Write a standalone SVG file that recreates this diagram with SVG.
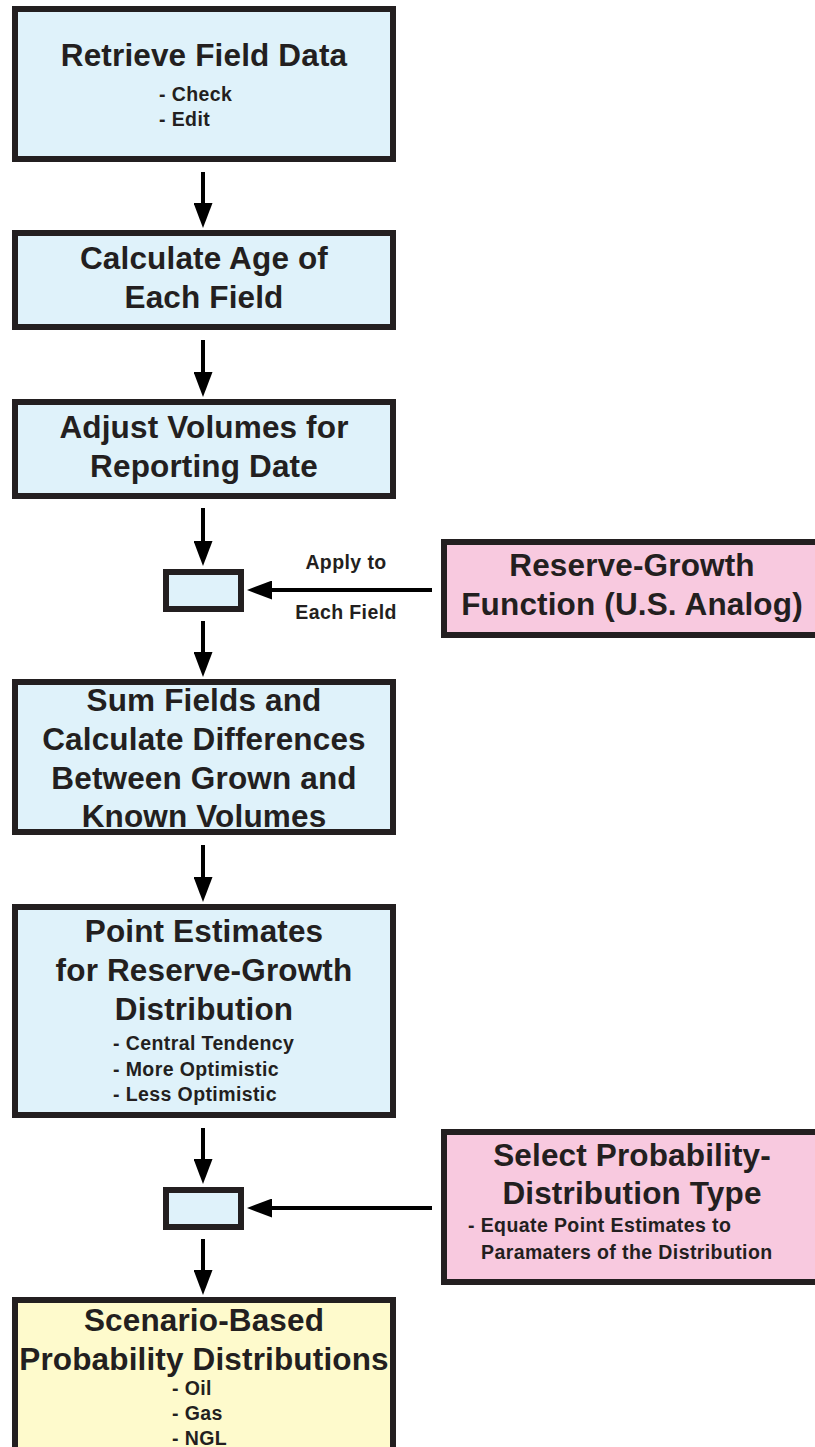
<svg xmlns="http://www.w3.org/2000/svg" width="815" height="1447" viewBox="0 0 815 1447">
<style>
.box{stroke:#231f20;stroke-width:6}
.blue{fill:#dff2fa}
.pink{fill:#f8c9df}
.yellow{fill:#fefacc}
text{font-family:"Liberation Sans",Arial,sans-serif;font-weight:bold;fill:#231f20}
.t{font-size:31.5px;letter-spacing:0.15px;text-anchor:middle}
.s{font-size:19.5px;letter-spacing:0.4px}
.sc{font-size:19.5px;letter-spacing:0.4px;text-anchor:middle}
.c{stroke:#000;stroke-width:4;fill:none;marker-end:url(#ah)}
</style>
<defs>
<marker id="ah" viewBox="0 0 25 19" refX="10" refY="9.5" markerWidth="25" markerHeight="19" markerUnits="userSpaceOnUse" orient="auto">
<path d="M0,0 L25,9.5 L0,19 Z" fill="#000"/>
</marker>
</defs>
<g id="n1">
<rect class="box blue" x="15" y="9" width="378" height="150"/>
<text class="t" x="204" y="66">Retrieve Field Data</text>
<text class="s" x="159" y="101">- Check</text>
<text class="s" x="159" y="126">- Edit</text>
</g>
<g id="n2">
<rect class="box blue" x="15" y="233" width="378" height="94"/>
<text class="t" x="204" y="269">Calculate Age of</text>
<text class="t" x="204" y="308">Each Field</text>
</g>
<g id="n3">
<rect class="box blue" x="15" y="402" width="378" height="94"/>
<text class="t" x="204" y="438">Adjust Volumes for</text>
<text class="t" x="204" y="477">Reporting Date</text>
</g>
<g id="j1">
<rect class="box blue" x="166" y="572" width="75" height="37"/>
</g>
<g id="n4">
<rect class="box pink" x="444" y="542" width="380" height="93"/>
<text class="t" x="632" y="576">Reserve-Growth</text>
<text class="t" x="632" y="615">Function (U.S. Analog)</text>
</g>
<g id="n5">
<rect class="box blue" x="15" y="682" width="378" height="150"/>
<text class="t" x="204" y="711">Sum Fields and</text>
<text class="t" x="204" y="750">Calculate Differences</text>
<text class="t" x="204" y="789">Between Grown and</text>
<text class="t" x="204" y="827">Known Volumes</text>
</g>
<g id="n6">
<rect class="box blue" x="15" y="907" width="378" height="208"/>
<text class="t" x="204" y="942">Point Estimates</text>
<text class="t" x="204" y="981">for Reserve-Growth</text>
<text class="t" x="204" y="1020">Distribution</text>
<text class="s" x="113" y="1050">- Central Tendency</text>
<text class="s" x="113" y="1076">- More Optimistic</text>
<text class="s" x="113" y="1101">- Less Optimistic</text>
</g>
<g id="j2">
<rect class="box blue" x="166" y="1190" width="75" height="37"/>
</g>
<g id="n7">
<rect class="box pink" x="444" y="1132" width="380" height="150"/>
<text class="t" x="632" y="1166">Select Probability-</text>
<text class="t" x="632" y="1204">Distribution Type</text>
<text class="s" x="468" y="1232">- Equate Point Estimates to</text>
<text class="s" x="481" y="1259">Paramaters of the Distribution</text>
</g>
<g id="n8">
<rect class="box yellow" x="15" y="1300" width="378" height="200"/>
<text class="t" x="204" y="1331">Scenario-Based</text>
<text class="t" x="204" y="1370">Probability Distributions</text>
<text class="s" x="172" y="1395">- Oil</text>
<text class="s" x="172" y="1420">- Gas</text>
<text class="s" x="172" y="1445">- NGL</text>
</g>
<g id="connectors">
<line class="c" x1="203" y1="172" x2="203" y2="213"/>
<line class="c" x1="203" y1="340" x2="203" y2="382"/>
<line class="c" x1="203" y1="508" x2="203" y2="551"/>
<line class="c" x1="203" y1="621" x2="203" y2="662"/>
<line class="c" x1="203" y1="845" x2="203" y2="887"/>
<line class="c" x1="203" y1="1128" x2="203" y2="1169"/>
<line class="c" x1="203" y1="1239" x2="203" y2="1280"/>
<line class="c" x1="432" y1="590" x2="262" y2="590"/>
<line class="c" x1="432" y1="1208" x2="262" y2="1208"/>
<text class="sc" x="346" y="569">Apply to</text>
<text class="sc" x="346" y="619">Each Field</text>
</g>
</svg>
